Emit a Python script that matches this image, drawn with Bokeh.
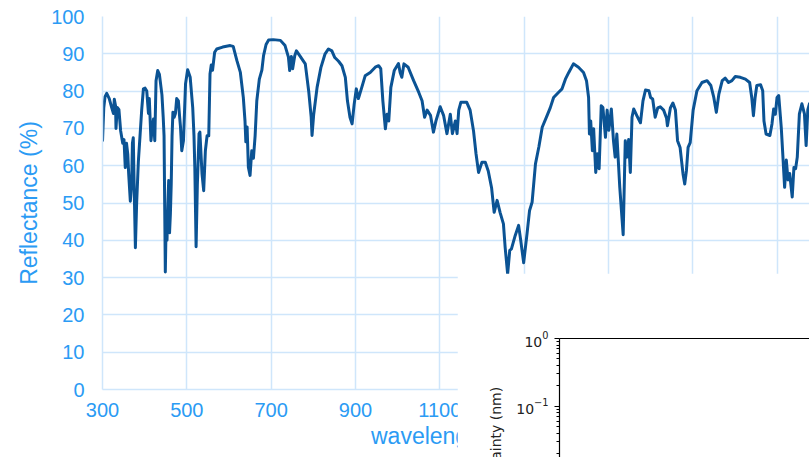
import math
from bokeh.plotting import figure
from bokeh.models import Range1d, FixedTicker, LinearAxis, Title
from bokeh.layouts import column
from bokeh.embed import file_html
from bokeh.resources import INLINE

# ---------------- data ----------------
wavelength_nm = [
    300, 303, 306, 310, 316, 322, 326, 328, 331, 332, 335, 339, 343, 348, 351, 354, 357, 360, 362, 366,
    369, 371, 373, 375, 378, 381, 385, 389, 393, 397, 401, 405, 409, 411, 415, 418, 421, 424, 427, 431,
    435, 441, 444, 446, 449, 451, 453, 455, 457, 459, 461, 463, 465, 467, 470, 473, 476, 480, 483, 485,
    488, 492, 497, 502, 508, 514, 517, 519, 522, 525, 529, 531, 536, 540, 544, 548, 552, 555, 558, 561,
    566, 571, 585, 603, 610, 619, 627, 634, 638, 640, 643, 646, 650, 654, 658, 662, 666, 672, 678, 682,
    688, 694, 705, 722, 733, 741, 744, 748, 751, 756, 760, 769, 781, 789, 795, 797, 801, 809, 818, 828,
    836, 844, 851, 860, 868, 876, 881, 887, 892, 897, 902, 907, 915, 923, 935, 947, 955, 960, 965, 971,
    975, 979, 984, 992, 1002, 1006, 1010, 1015, 1025, 1038, 1050, 1058, 1064, 1070, 1078, 1085, 1091, 1101, 1109, 1117,
    1125, 1130, 1137, 1141, 1145, 1150, 1164, 1172, 1180, 1186, 1192, 1200, 1208, 1215, 1223, 1229, 1236, 1243, 1251, 1255,
    1261, 1266, 1270, 1279, 1287, 1292, 1299, 1307, 1313, 1319, 1327, 1335, 1343, 1354, 1362, 1370, 1382, 1390, 1398, 1406,
    1417, 1429, 1441, 1448, 1453, 1455, 1458, 1462, 1465, 1470, 1474, 1478, 1483, 1487, 1493, 1497, 1501, 1507, 1512, 1516,
    1520, 1527, 1535, 1540, 1544, 1548, 1552, 1556, 1560, 1568, 1576, 1582, 1588, 1596, 1600, 1605, 1611, 1617, 1623, 1631,
    1638, 1640, 1647, 1653, 1659, 1664, 1670, 1677, 1681, 1685, 1689, 1694, 1701, 1710, 1722, 1734, 1743, 1750, 1756, 1762,
    1770, 1777, 1785, 1793, 1801, 1813, 1825, 1835, 1840, 1844, 1848, 1852, 1861, 1866, 1869, 1874, 1883, 1888, 1892, 1896,
    1900, 1904, 1910, 1914, 1918, 1922, 1926, 1930, 1936, 1940, 1944, 1948, 1953, 1959, 1965, 1969, 1973, 1977, 1990,
]
reflectance_pct = [
    66.5, 75.5, 78.5, 79.4, 78.0, 75.5, 74.0, 77.8, 76.0, 70.0, 75.6, 75.0, 69.4, 66.0, 67.0, 59.5, 66.0, 63.0, 58.0, 50.5,
    55.0, 66.0, 67.5, 55.0, 38.0, 50.0, 61.0, 68.0, 75.0, 80.6, 80.8, 80.0, 74.0, 78.0, 66.7, 70.0, 72.5, 66.7, 82.8, 85.5,
    84.5, 79.0, 73.0, 68.0, 31.5, 45.0, 40.0, 49.0, 56.0, 42.0, 47.0, 55.0, 68.0, 74.3, 73.0, 74.0, 78.0, 77.4, 73.0, 70.4,
    64.0, 66.7, 82.0, 85.7, 83.7, 75.6, 68.0, 59.5, 38.3, 55.0, 68.6, 69.0, 57.9, 53.3, 64.0, 68.0, 68.0, 84.6, 87.0, 85.6,
    90.4, 91.3, 91.8, 92.2, 92.0, 88.1, 85.0, 78.3, 72.0, 66.4, 70.4, 59.6, 57.4, 64.0, 62.0, 68.0, 77.4, 83.2, 85.6, 89.5,
    92.5, 93.7, 93.8, 93.6, 92.2, 89.1, 85.5, 89.3, 86.0, 89.5, 90.8, 89.3, 87.3, 80.1, 73.0, 68.1, 73.8, 81.0, 86.3, 90.0,
    91.3, 90.8, 89.0, 88.0, 86.8, 83.7, 77.4, 73.0, 71.2, 76.5, 80.6, 78.0, 81.0, 84.1, 85.0, 86.4, 86.8, 86.0, 77.4, 69.9,
    73.8, 72.0, 81.0, 85.5, 87.4, 85.0, 83.7, 87.3, 86.4, 82.8, 79.7, 77.4, 73.0, 74.9, 73.5, 69.0, 72.0, 75.8, 73.5, 68.6,
    73.8, 68.6, 72.0, 68.6, 74.9, 77.0, 77.0, 74.9, 69.4, 63.2, 58.2, 60.9, 60.9, 58.6, 54.0, 47.5, 50.7, 47.5, 44.4, 38.2,
    31.0, 37.3, 37.7, 41.3, 44.0, 40.0, 34.0, 41.8, 48.0, 50.2, 60.5, 65.0, 70.3, 73.3, 75.5, 78.3, 79.7, 80.6, 83.2, 85.0,
    87.3, 86.4, 85.0, 82.8, 78.3, 68.5, 72.0, 64.0, 69.9, 58.2, 63.2, 59.2, 76.1, 75.6, 67.6, 74.9, 69.5, 75.2, 66.7, 62.3,
    68.5, 54.2, 41.5, 66.7, 62.3, 67.0, 58.2, 73.0, 75.2, 73.3, 71.5, 77.4, 80.3, 80.1, 78.3, 77.9, 73.0, 75.5, 75.8, 74.9,
    72.7, 70.7, 75.5, 76.8, 74.9, 66.7, 64.9, 57.8, 55.1, 58.6, 64.9, 66.2, 74.9, 80.1, 82.3, 82.8, 81.5, 78.3, 74.3, 79.2,
    82.8, 83.5, 82.3, 82.8, 83.9, 83.7, 83.2, 82.3, 78.3, 73.4, 78.3, 81.5, 81.7, 80.1, 72.0, 68.5, 68.1, 71.2, 75.2, 73.8,
    78.3, 78.8, 70.3, 62.3, 54.2, 61.5, 56.2, 57.9, 51.6, 59.5, 59.2, 62.3, 73.9, 76.6, 73.9, 65.4, 75.0, 76.6, 76.0,
]
x_ticks = [300, 500, 700, 900, 1100, 1300, 1500, 1700, 1900]
y_ticks = [0, 10, 20, 30, 40, 50, 60, 70, 80, 90, 100]
x_label = "wavelength (nm)"
y_label = "Reflectance (%)"

inset_major_ticks = [0.01, 0.1, 1.0]
inset_y_label = "Uncertainty (nm)"

# ---------------- styles ----------------
TXT = "#2b9bf4"
GRID = "#cfe6fb"
LINE = "#0b5394"
FONT = "Liberation Sans"

p = figure(width=809, height=457, x_range=Range1d(300, 1977), y_range=Range1d(0, 100),
           output_backend="svg", toolbar_location=None,
           min_border_left=102, min_border_right=0, min_border_top=16, min_border_bottom=68)
p.outline_line_color = None
p.background_fill_color = "white"
p.border_fill_color = "white"

p.line(wavelength_nm, reflectance_pct, line_color=LINE, line_width=3, line_join="round")

p.xaxis.ticker = FixedTicker(ticks=x_ticks)
p.yaxis.ticker = FixedTicker(ticks=y_ticks)
for ax in (p.xaxis[0], p.yaxis[0]):
    ax.axis_line_color = GRID
    ax.axis_line_width = 1.5
    ax.major_tick_line_color = None
    ax.minor_tick_line_color = None
    ax.major_tick_out = 0
    ax.major_tick_in = 0
    ax.minor_tick_out = 0
    ax.minor_tick_in = 0
    ax.major_label_text_color = TXT
    ax.major_label_text_font = FONT
    ax.major_label_text_font_size = "20px"
    ax.axis_label_text_color = TXT
    ax.axis_label_text_font = FONT
    ax.axis_label_text_font_size = "23px"
    ax.axis_label_text_font_style = "normal"
p.xaxis.axis_label = x_label
p.yaxis.axis_label = y_label
p.xaxis.major_label_standoff = 13
p.xaxis.axis_label_standoff = 3
p.yaxis.major_label_standoff = 18
p.yaxis.axis_label_standoff = 6
p.grid.grid_line_color = GRID
p.grid.grid_line_width = 1.5

# ---------------- inset (log axis panel) ----------------
minor = [m * 10.0 ** e for e in (-2, -1) for m in range(2, 10)]
p2 = figure(width=352, height=184, x_range=Range1d(0, 1), y_range=Range1d(10 ** -1.758, 1.0),
            y_axis_type="log", x_axis_location=None,
            output_backend="svg", toolbar_location=None,
            min_border_left=95, min_border_right=0, min_border_top=65, min_border_bottom=0)
p2.grid.visible = False
p2.outline_line_color = None
p2.background_fill_color = "white"
p2.border_fill_color = "white"
ya = p2.yaxis[0]
ya.ticker = FixedTicker(ticks=inset_major_ticks, minor_ticks=minor)
ya.axis_line_color = "black"
ya.axis_line_width = 1.2
ya.major_tick_line_color = "black"
ya.minor_tick_line_color = "black"
ya.major_tick_in = 0
ya.major_tick_out = 5
ya.minor_tick_in = 0
ya.minor_tick_out = 3
ya.major_label_standoff = 6
ya.major_label_text_font = "DejaVu Sans"
ya.major_label_text_font_size = "14px"
ya.major_label_text_color = "#222222"

top = LinearAxis(axis_line_color="black", axis_line_width=1.2,
                 major_tick_line_color=None, minor_tick_line_color=None,
                 major_label_text_color=None)
p2.add_layout(top, "above")

ttl = Title(text=inset_y_label, align="left", offset=-49, standoff=20,
            text_font="DejaVu Sans", text_font_size="14px", text_font_style="normal",
            text_color="#222222")
p2.add_layout(ttl, "left")

p2.margin = (-184, 0, 0, 457)

layout = column(p, p2, spacing=0)
open("out.html", "w").write(file_html(layout, INLINE))
